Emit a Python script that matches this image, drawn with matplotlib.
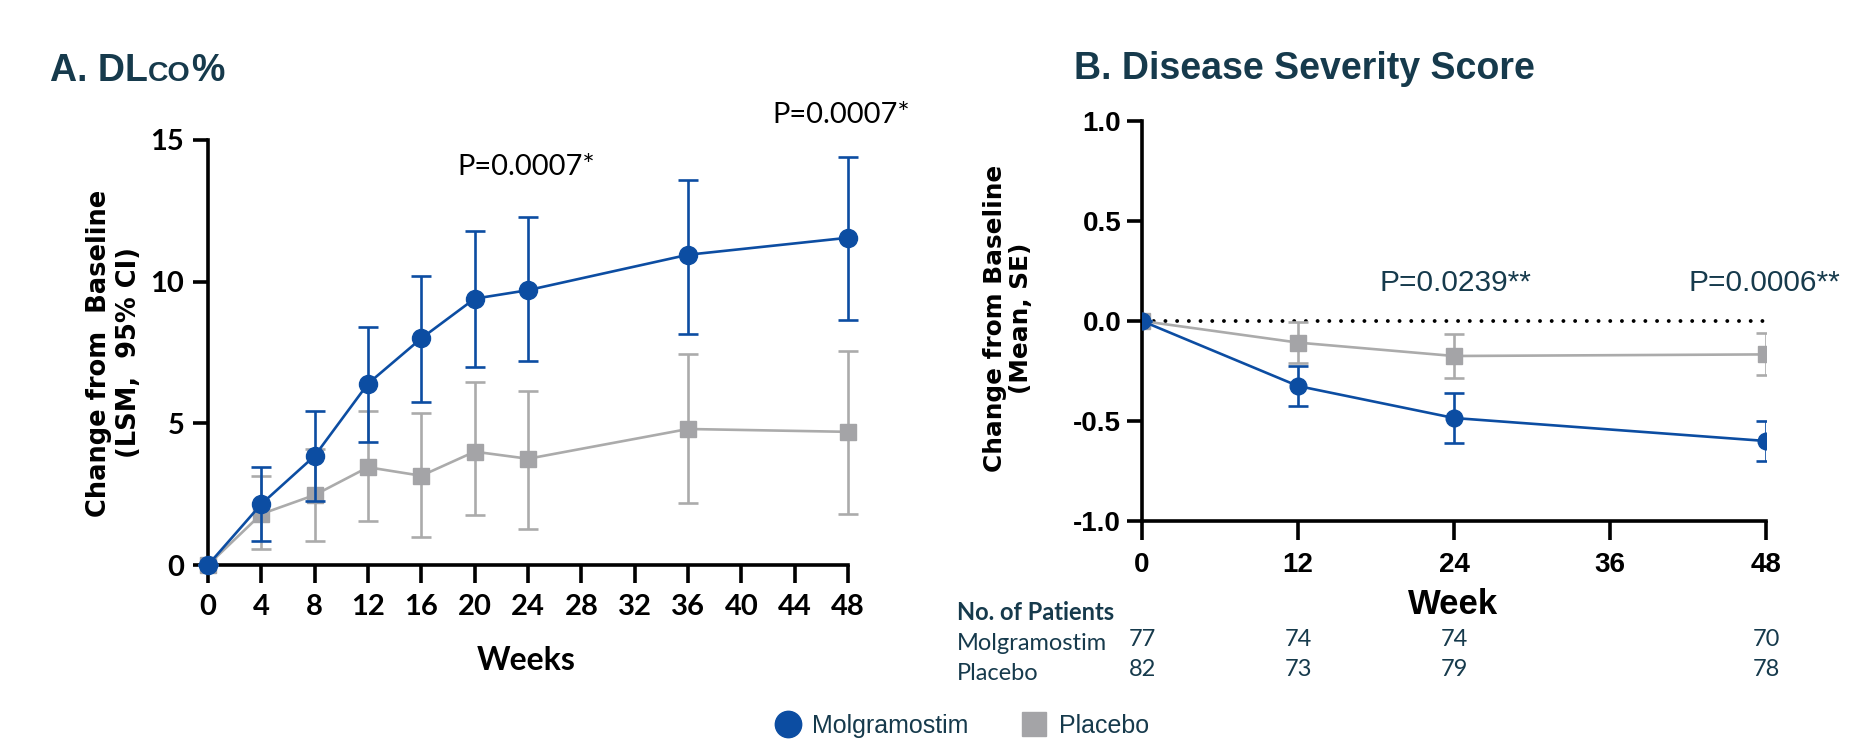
import numpy as np
import matplotlib
matplotlib.use("Agg")
import matplotlib.pyplot as plt
from matplotlib.lines import Line2D
from matplotlib.transforms import blended_transform_factory

# ---- data: panel A (DLco%, LSM with 95% CI) ----
weeks_a = [0, 4, 8, 12, 16, 20, 24, 36, 48]
molg_a = [0, 2.15, 3.85, 6.4, 8.0, 9.4, 9.7, 10.95, 11.55]
molg_a_lo = [0, 0.85, 2.27, 4.35, 5.75, 7.0, 7.2, 8.15, 8.65]
molg_a_hi = [0, 3.45, 5.45, 8.4, 10.2, 11.8, 12.3, 13.6, 14.4]
plac_a = [0, 1.8, 2.47, 3.45, 3.15, 4.0, 3.75, 4.8, 4.7]
plac_a_lo = [0, 0.56, 0.85, 1.56, 0.98, 1.75, 1.26, 2.2, 1.8]
plac_a_hi = [0, 3.15, 4.1, 5.45, 5.35, 6.45, 6.15, 7.45, 7.55]
xticks_a = [0, 4, 8, 12, 16, 20, 24, 28, 32, 36, 40, 44, 48]
yticks_a = [0, 5, 10, 15]

# ---- data: panel B (Disease severity score, mean and SE) ----
weeks_b = [0, 12, 24, 48]
molg_b = [0, -0.325, -0.485, -0.60]
molg_b_se = [0, 0.10, 0.123, 0.10]
plac_b = [0, -0.108, -0.175, -0.167]
plac_b_se = [0, 0.102, 0.11, 0.105]
xticks_b = [0, 12, 24, 36, 48]
yticks_b = [1.0, 0.5, 0.0, -0.5, -1.0]
ytick_labels_b = ["1.0", "0.5", "0.0", "-0.5", "-1.0"]

# number of patients table
n_molg = [77, 74, 74, 70]
n_plac = [82, 73, 79, 78]

blue = "#0c4da2"
grey = "#a4a4a7"
grey_line = "#ababab"
teal = "#163a4c"

W, H = 1875, 747
fig = plt.figure(figsize=(W / 100, H / 100), dpi=100)


def px(x0, y_top, x1, y_bot):
    # pixel box -> figure fraction [left, bottom, width, height]
    return [x0 / W, 1 - y_bot / H, (x1 - x0) / W, (y_bot - y_top) / H]


def style_axes(ax):
    for s in ["top", "right"]:
        ax.spines[s].set_visible(False)
    for s in ["left", "bottom"]:
        ax.spines[s].set_linewidth(2.6)
    ax.tick_params(width=2.6, length=12, direction="out")


def unclip(eb):
    parts = [eb.lines[0]] + list(eb.lines[1]) + list(eb.lines[2])
    for art in parts:
        if art is not None:
            art.set_clip_on(False)


# ================= panel A =================
axa = fig.add_axes(px(208, 140, 848, 565))
style_axes(axa)
axa.tick_params(axis="x", length=13, pad=8)
axa.tick_params(axis="y", length=11, pad=6)

pa_err = [np.array(plac_a) - np.array(plac_a_lo), np.array(plac_a_hi) - np.array(plac_a)]
ma_err = [np.array(molg_a) - np.array(molg_a_lo), np.array(molg_a_hi) - np.array(molg_a)]

eb = axa.errorbar(weeks_a, plac_a, yerr=pa_err, color=grey_line, ecolor=grey_line,
                  marker="s", ms=11, mfc=grey, mec=grey, lw=1.9, elinewidth=1.9,
                  capsize=7, capthick=1.9, zorder=3)
unclip(eb)
eb = axa.errorbar(weeks_a, molg_a, yerr=ma_err, color=blue, ecolor=blue,
                  marker="o", ms=13, mfc=blue, mec=blue, lw=1.9, elinewidth=1.9,
                  capsize=7, capthick=1.9, zorder=4)
unclip(eb)

axa.set_xlim(0, 48)
axa.set_ylim(0, 15)
axa.set_xticks(xticks_a)
axa.set_yticks(yticks_a)
for lab in axa.get_xticklabels() + axa.get_yticklabels():
    lab.set_fontfamily("Lato")
    lab.set_fontweight("bold")
    lab.set_fontsize(21)

fig.text(526 / W, 1 - 661 / H, "Weeks", family="Lato", weight="bold", fontsize=23,
         ha="center", va="center")
fig.text(114 / W, 1 - 353 / H, "Change from  Baseline\n(LSM,  95% CI)", rotation=90,
         family="DejaVu Sans", weight="bold", fontsize=18.5, ha="center", va="center",
         multialignment="center", linespacing=1.15)

fig.text(526 / W, 1 - 167 / H, "P=0.0007*", family="Lato",
         fontsize=21, ha="center", va="center")
fig.text(841 / W, 1 - 115 / H, "P=0.0007*", family="Lato",
         fontsize=21, ha="center", va="center")

# title A with small caps "CO"
renderer = fig.canvas.get_renderer()
base_y = 1 - 81 / H
t1 = fig.text(50 / W, base_y, "A. DL", family="Liberation Sans", weight="bold",
              fontsize=27, color=teal, ha="left", va="baseline")
bb = t1.get_window_extent(renderer)
t2 = fig.text(bb.x1 / W, base_y, "CO", family="Liberation Sans", weight="bold",
              fontsize=20.5, color=teal, ha="left", va="baseline")
bb = t2.get_window_extent(renderer)
fig.text(bb.x1 / W, base_y, "%", family="Liberation Sans", weight="bold",
         fontsize=27, color=teal, ha="left", va="baseline")

# ================= panel B =================
axb = fig.add_axes(px(1142, 121, 1766, 521))
style_axes(axb)
axb.tick_params(axis="x", length=14, pad=8)
axb.tick_params(axis="y", length=11, pad=4)

axb.plot([0, 48], [0, 0], color="black", lw=2.8, ls=(0, (0.01, 3.0)),
         dash_capstyle="round", zorder=2, clip_on=False)
axb.errorbar(weeks_b, plac_b, yerr=plac_b_se, color=grey_line, ecolor=grey_line,
             marker="s", ms=11, mfc=grey, mec=grey, lw=1.9, elinewidth=1.9,
             capsize=7.5, capthick=1.9, zorder=3)
axb.errorbar(weeks_b, molg_b, yerr=molg_b_se, color=blue, ecolor=blue,
             marker="o", ms=12, mfc=blue, mec=blue, lw=1.9, elinewidth=1.9,
             capsize=7.5, capthick=1.9, zorder=4)
axb.set_xlim(0, 48)
axb.set_ylim(-1, 1)
axb.set_xticks(xticks_b)
axb.set_yticks(yticks_b)
axb.set_yticklabels(ytick_labels_b)
for lab in axb.get_xticklabels() + axb.get_yticklabels():
    lab.set_fontfamily("Liberation Sans")
    lab.set_fontweight("bold")
    lab.set_fontsize(20)

fig.text(1453 / W, 1 - 605 / H, "Week", family="Liberation Sans", weight="bold",
         fontsize=25, ha="center", va="center")
fig.text(1008 / W, 1 - 318 / H, "Change from Baseline\n(Mean, SE)", rotation=90,
         family="DejaVu Sans", weight="bold", fontsize=17.8, ha="center", va="center",
         multialignment="center", linespacing=1.1)

fig.text(1455 / W, 1 - 283 / H, "P=0.0239**", family="Liberation Sans", fontsize=21.5,
         color=teal, ha="center", va="center")
fig.text(1764 / W, 1 - 283 / H, "P=0.0006**", family="Liberation Sans", fontsize=21.5,
         color=teal, ha="center", va="center")

fig.text(1074 / W, 1 - 69 / H, "B. Disease Severity Score", family="Liberation Sans",
         weight="bold", fontsize=27, color=teal, ha="left", va="center")

# number of patients table
tr = blended_transform_factory(axb.transData, fig.transFigure)
fig.text(957 / W, 1 - 612 / H, "No. of Patients", family="Lato", weight="bold",
         fontsize=17, color=teal, ha="left", va="center")
fig.text(957 / W, 1 - 643 / H, "Molgramostim", family="Lato", fontsize=17,
         color=teal, ha="left", va="center")
fig.text(957 / W, 1 - 673 / H, "Placebo", family="Lato", fontsize=17,
         color=teal, ha="left", va="center")
for wk, a, b in zip(weeks_b, n_molg, n_plac):
    axb.text(wk, 1 - 640 / H, str(a), transform=tr, family="Lato", fontsize=17,
             color=teal, ha="center", va="center", clip_on=False)
    axb.text(wk, 1 - 670 / H, str(b), transform=tr, family="Lato", fontsize=17,
             color=teal, ha="center", va="center", clip_on=False)

# legend
handles = [Line2D([], [], ls="none", marker="o", ms=19, mfc=blue, mec=blue),
           Line2D([], [], ls="none", marker="s", ms=17, mfc=grey, mec=grey)]
fig.legend(handles, ["Molgramostim", "Placebo"], loc="center",
           bbox_to_anchor=(962 / W, 1 - 726 / H), ncol=2, frameon=False,
           prop={"family": "Liberation Sans", "size": 18}, handletextpad=0.5,
           columnspacing=2.1, handlelength=1.0, labelcolor=teal)

fig.savefig("out.png", dpi=100)
